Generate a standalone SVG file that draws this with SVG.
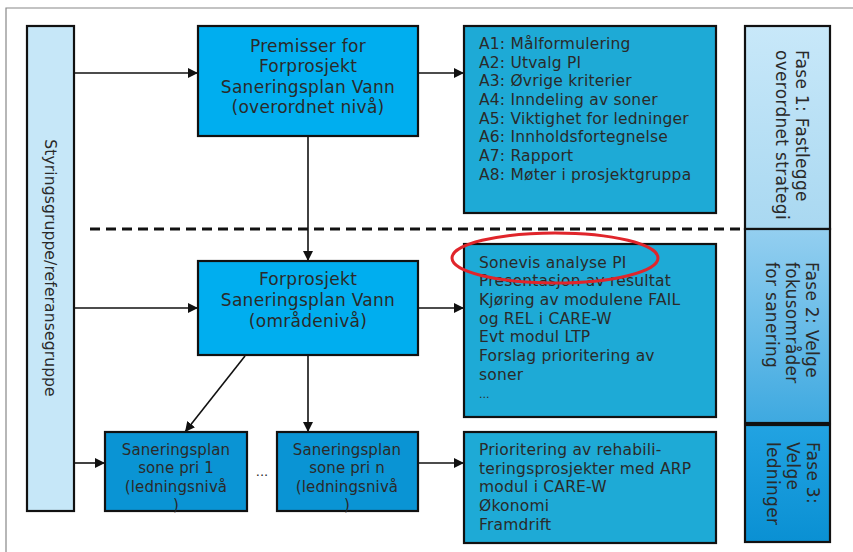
<svg xmlns="http://www.w3.org/2000/svg" width="853" height="552" viewBox="0 0 853 552">
<defs>
<style>
.box{stroke:#111;stroke-width:2.2}
.t{font-family:"DejaVu Sans",Verdana,sans-serif;fill:#2a2a2a}
.c{font-size:17px;letter-spacing:0.3px;text-anchor:middle}
.l{font-size:15.5px;letter-spacing:0.2px}
.s{font-size:15px;letter-spacing:0.1px;text-anchor:middle}
.r{font-size:17px;letter-spacing:0.3px}
.ln{stroke:#111;stroke-width:1.6;fill:none}
</style>
<marker id="ah" viewBox="0 0 10 10" refX="10" refY="5" markerWidth="10" markerHeight="10" markerUnits="userSpaceOnUse" orient="auto">
<path d="M0,0 L10,5 L0,10 Z" fill="#111"/>
</marker>
<linearGradient id="g1" x1="0" y1="0" x2="0" y2="1"><stop offset="0" stop-color="#c8e8f9"/><stop offset="1" stop-color="#a9d8f1"/></linearGradient>
<linearGradient id="g2" x1="0" y1="0" x2="0" y2="1"><stop offset="0" stop-color="#94cff0"/><stop offset="1" stop-color="#3ea9e0"/></linearGradient>
<linearGradient id="g3" x1="0" y1="0" x2="0" y2="1"><stop offset="0" stop-color="#22a3e2"/><stop offset="1" stop-color="#0a90d3"/></linearGradient>
</defs>
<rect width="853" height="552" fill="#fff"/>
<path d="M6,552 V8 H853" fill="none" stroke="#888" stroke-width="1.2"/>

<g id="connectors">
<line class="ln" x1="74" y1="73" x2="198" y2="73" marker-end="url(#ah)"/>
<line class="ln" x1="418" y1="73" x2="464" y2="73" marker-end="url(#ah)"/>
<line class="ln" x1="308" y1="136" x2="308" y2="261" marker-end="url(#ah)"/>
<line class="ln" x1="74" y1="308" x2="198" y2="308" marker-end="url(#ah)"/>
<line class="ln" x1="418" y1="308" x2="464" y2="308" marker-end="url(#ah)"/>
<line class="ln" x1="245" y1="356" x2="185" y2="432" marker-end="url(#ah)"/>
<line class="ln" x1="308" y1="355" x2="308" y2="432" marker-end="url(#ah)"/>
<line class="ln" x1="74" y1="463" x2="105" y2="463" marker-end="url(#ah)"/>
<line class="ln" x1="418" y1="463" x2="464" y2="463" marker-end="url(#ah)"/>
<line x1="90" y1="229" x2="745" y2="229" stroke="#111" stroke-width="3" stroke-dasharray="10,6"/>
</g>

<g id="styringsgruppe">
<rect class="box" x="27" y="26" width="47" height="485" fill="#c6e7f8"/>
<text class="t" font-size="15.5" letter-spacing="0.15" text-anchor="middle" transform="translate(45,268) rotate(90)">Styringsgruppe/referansegruppe</text>
</g>

<g id="premisser">
<rect class="box" x="198" y="26" width="220" height="110" fill="#00aeef"/>
<text class="t c" x="308" y="52">Premisser for</text>
<text class="t c" x="308" y="72">Forprosjekt</text>
<text class="t c" x="308" y="93">Saneringsplan Vann</text>
<text class="t c" x="308" y="113">(overordnet nivå)</text>
</g>

<g id="a-liste">
<rect class="box" x="464" y="26" width="252" height="187" fill="#1eaad6"/>
<text class="t l" x="479" y="49">A1: Målformulering</text>
<text class="t l" x="479" y="68">A2: Utvalg PI</text>
<text class="t l" x="479" y="86">A3: Øvrige kriterier</text>
<text class="t l" x="479" y="105">A4: Inndeling av soner</text>
<text class="t l" x="479" y="124">A5: Viktighet for ledninger</text>
<text class="t l" x="479" y="142">A6: Innholdsfortegnelse</text>
<text class="t l" x="479" y="161">A7: Rapport</text>
<text class="t l" x="479" y="180">A8: Møter i prosjektgruppa</text>
</g>

<g id="fase1">
<rect class="box" x="745" y="26" width="85" height="203" fill="url(#g1)"/>
<text class="t r" transform="translate(796,50) rotate(90)">Fase 1: Fastlegge</text>
<text class="t r" transform="translate(776,50) rotate(90)">overordnet strategi</text>
</g>

<g id="forprosjekt">
<rect class="box" x="198" y="261" width="220" height="94" fill="#00aeef"/>
<text class="t c" x="308" y="285">Forprosjekt</text>
<text class="t c" x="308" y="306">Saneringsplan Vann</text>
<text class="t c" x="308" y="327">(områdenivå)</text>
</g>

<g id="sonevis">
<rect class="box" x="464" y="244" width="252" height="173" fill="#1eaad6"/>
<text class="t l" x="479" y="268">Sonevis analyse PI</text>
<text class="t l" x="479" y="286">Presentasjon av resultat</text>
<text class="t l" x="479" y="305">Kjøring av modulene FAIL</text>
<text class="t l" x="479" y="324">og REL i CARE-W</text>
<text class="t l" x="479" y="342">Evt modul LTP</text>
<text class="t l" x="479" y="361">Forslag prioritering av</text>
<text class="t l" x="479" y="380">soner</text>
<text class="t" font-size="11" x="479" y="398">...</text>
<ellipse cx="555" cy="258" rx="103" ry="25" fill="none" stroke="#e0252b" stroke-width="3"/>
</g>

<g id="fase2">
<rect class="box" x="745" y="229" width="85" height="194" fill="url(#g2)"/>
<text class="t r" transform="translate(806,262) rotate(90)">Fase 2: Velge</text>
<text class="t r" transform="translate(786,262) rotate(90)">fokusområder</text>
<text class="t r" transform="translate(766,262) rotate(90)">for sanering</text>
</g>

<g id="sone1">
<rect class="box" x="105" y="432" width="142" height="79" fill="#0a94d4"/>
<text class="t s" x="176" y="455">Saneringsplan</text>
<text class="t s" x="176" y="473">sone pri 1</text>
<text class="t s" x="176" y="492">(ledningsnivå</text>
<text class="t s" x="176" y="510">)</text>
</g>

<g id="prikker">
<text class="t" font-size="13" text-anchor="middle" x="262" y="476">...</text>
</g>

<g id="sonen">
<rect class="box" x="277" y="432" width="141" height="79" fill="#0a94d4"/>
<text class="t s" x="347" y="455">Saneringsplan</text>
<text class="t s" x="347" y="473">sone pri n</text>
<text class="t s" x="347" y="492">(ledningsnivå</text>
<text class="t s" x="347" y="510">)</text>
</g>

<g id="prioritering">
<rect class="box" x="464" y="432" width="252" height="111" fill="#1eaad6"/>
<text class="t l" x="479" y="455">Prioritering av rehabili-</text>
<text class="t l" x="479" y="474">teringsprosjekter med ARP</text>
<text class="t l" x="479" y="492">modul i CARE-W</text>
<text class="t l" x="479" y="511">Økonomi</text>
<text class="t l" x="479" y="530">Framdrift</text>
</g>

<g id="fase3">
<rect class="box" x="745" y="425" width="85" height="117" fill="url(#g3)"/>
<text class="t r" transform="translate(807,442) rotate(90)">Fase 3:</text>
<text class="t r" transform="translate(787,442) rotate(90)">Velge</text>
<text class="t r" transform="translate(767,442) rotate(90)">ledninger</text>
</g>
</svg>
